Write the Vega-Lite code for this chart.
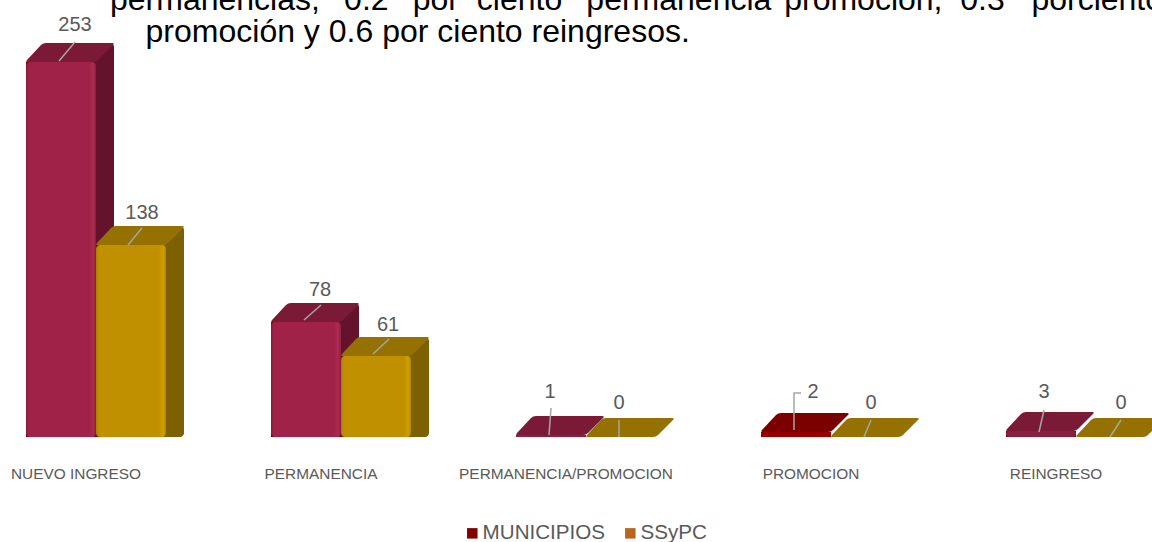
{
"$schema":"https://vega.github.io/schema/vega-lite/v6.json",
"width":1152,"height":542,"padding":0,"autosize":{"type":"none"},"background":"white",
"config":{"view":{"stroke":null},"font":"Liberation Sans"},
"title":{"text":["permanencias,\u00a0\u00a0\u20090.2\u00a0\u00a0\u2009por\u00a0\u00a0ciento\u00a0\u00a0\u2009permanencia\u2009\u2009promoción,\u00a0\u00a00.3\u00a0\u00a0\u00a0porciento","\u200b\u00a0\u00a0\u00a0\u00a0promoción y 0.6 por ciento reingresos."],"anchor":"start","frame":"group","orient":"top","offset":-74,"dx":110,"fontSize":32,"font":"Liberation Sans","fontWeight":"normal","color":"#000000","lineHeight":32,"baseline":"alphabetic"},
"data":{"values":[
{"category":"NUEVO INGRESO","series":"MUNICIPIOS","value":253},
{"category":"NUEVO INGRESO","series":"SSyPC","value":138},
{"category":"PERMANENCIA","series":"MUNICIPIOS","value":78},
{"category":"PERMANENCIA","series":"SSyPC","value":61},
{"category":"PERMANENCIA/PROMOCION","series":"MUNICIPIOS","value":1},
{"category":"PERMANENCIA/PROMOCION","series":"SSyPC","value":0},
{"category":"PROMOCION","series":"MUNICIPIOS","value":2},
{"category":"PROMOCION","series":"SSyPC","value":0},
{"category":"REINGRESO","series":"MUNICIPIOS","value":3},
{"category":"REINGRESO","series":"SSyPC","value":0}
]},
"transform":[{"calculate":"datum.category+'|'+datum.series","as":"key"}],
"encoding":{
"x":{"field":"category","type":"nominal","sort":null,"scale":{"range":[-26.5,1198.5],"paddingInner":0.42857,"paddingOuter":0.21429},"axis":{"title":null,"domain":false,"ticks":false,"grid":false,"labelAngle":0,"labelFontSize":15.4,"labelColor":"#595959","labelFont":"Liberation Sans","labelPadding":29,"offset":-105,"labelOffset":-20,"labelOverlap":false,"labelBound":false,"labelFlush":false,"labelLimit":400}},
"y":{"field":"value","type":"quantitative","scale":{"domain":[0,1,2,3,61,78,138,253],"range":[437,435,432,431,356,322,245,62],"nice":false,"zero":false},"axis":null}
},
"layer":[
{"mark":{"type":"bar"},"encoding":{"xOffset":{"field":"series","type":"nominal","sort":["MUNICIPIOS","SSyPC"]},"color":{"field":"series","type":"nominal","scale":{"domain":["MUNICIPIOS","SSyPC"],"range":["#800000","#b8651e"]},"legend":{"orient":"none","legendX":462,"legendY":523,"direction":"horizontal","title":null,"symbolType":"square","symbolSize":110,"symbolStrokeWidth":0,"labelFontSize":20.6,"labelColor":"#595959","labelFont":"Liberation Sans","labelOffset":0,"columnPadding":14}}}},
{"transform":[{"filter":"datum.value>3"}],"mark":{"type":"bar","width":70,"xOffset":{"expr":"datum.series=='SSyPC'?53:-17"},"yOffset":-19,"cornerRadius":4},"encoding":{"y2":{"datum":0},"color":{"condition":[{"test":"datum.series=='SSyPC'","value":"#7d6000"}],"value":"#65132d"}}},
{"transform":[{"filter":"datum.value>3"}],"mark":{"type":"point","filled":true,"opacity":1,"size":4,"strokeWidth":0,"shape":"M33 0 Q36 0 38 -2 L53 -18 L53 -19 L35 -19 Z"},"encoding":{"xOffset":{"field":"series","type":"nominal","sort":["MUNICIPIOS","SSyPC"]},"y":{"datum":0},"color":{"condition":[{"test":"datum.series=='SSyPC'","value":"#7d6000"}],"value":"#65132d"}}},
{"mark":{"type":"point","filled":true,"opacity":1,"size":4,"strokeWidth":0,"shape":"M-33 0 Q-36 0 -34 -2 L-20 -17 Q-18 -19 -15 -19 L51 -19 Q54 -19 52 -17 L37 -2 Q35 0 32 0 Z"},"encoding":{"xOffset":{"field":"series","type":"nominal","sort":["MUNICIPIOS","SSyPC"]},"color":{"condition":[{"test":"datum.key=='PROMOCION|MUNICIPIOS'","value":"#7b0000"},{"test":"datum.series=='SSyPC'","value":"#947100"}],"value":"#7a1a37"}}},
{"mark":{"type":"bar","cornerRadius":4},"encoding":{"xOffset":{"field":"series","type":"nominal","sort":["MUNICIPIOS","SSyPC"]},"color":{"condition":[{"test":"datum.key=='PROMOCION|MUNICIPIOS'","value":"#990000"},{"test":"datum.value<=3 && datum.series=='MUNICIPIOS'","value":"#8a1e3e"},{"test":"datum.series=='SSyPC'","value":{"x1":0,"x2":1,"y1":0,"y2":0,"gradient":"linear","stops":[{"offset":0,"color":"#a87f00"},{"offset":0.04,"color":"#c09000"},{"offset":0.9,"color":"#c09000"},{"offset":0.96,"color":"#d2a000"},{"offset":1,"color":"#b08500"}]}}],"value":{"x1":0,"x2":1,"y1":0,"y2":0,"gradient":"linear","stops":[{"offset":0,"color":"#7f1c3b"},{"offset":0.04,"color":"#a02248"},{"offset":0.9,"color":"#a02248"},{"offset":0.96,"color":"#ae2a50"},{"offset":1,"color":"#8a1e3e"}]}}}},
{"mark":{"type":"point","filled":false,"opacity":1,"size":4,"strokeWidth":1.5,"color":"#a6a6a6"},"encoding":{"xOffset":{"field":"series","type":"nominal","sort":["MUNICIPIOS","SSyPC"]},"shape":{"field":"key","type":"nominal","legend":null,"scale":{"domain":["NUEVO INGRESO|MUNICIPIOS","NUEVO INGRESO|SSyPC","PERMANENCIA|MUNICIPIOS","PERMANENCIA|SSyPC","PERMANENCIA/PROMOCION|MUNICIPIOS","PERMANENCIA/PROMOCION|SSyPC","PROMOCION|MUNICIPIOS","PROMOCION|SSyPC","REINGRESO|MUNICIPIOS","REINGRESO|SSyPC"],"range":["M-2 -1 L14 -20","M-3 0 L11 -17","M-2 -2 L15 -17","M-3 -2 L13 -17","M-2 0 L0 -27","M-2 0 L-2 -17","M-2 -2 L-2 -39 L5 -39","M-2 0 L5 -17","M-2 1 L3 -21","M-1 0 L10 -17"]}}}},
{"mark":{"type":"text","font":"Liberation Sans","fontSize":20,"color":"#595959","baseline":"middle","align":"center",
"dx":{"expr":"{'NUEVO INGRESO|MUNICIPIOS':14,'NUEVO INGRESO|SSyPC':11,'PERMANENCIA|MUNICIPIOS':14,'PERMANENCIA|SSyPC':12,'PERMANENCIA/PROMOCION|MUNICIPIOS':-1,'PERMANENCIA/PROMOCION|SSyPC':-2,'PROMOCION|MUNICIPIOS':17,'PROMOCION|SSyPC':5,'REINGRESO|MUNICIPIOS':3,'REINGRESO|SSyPC':10}[datum.key]"},
"dy":{"expr":"{'NUEVO INGRESO|MUNICIPIOS':-37,'NUEVO INGRESO|SSyPC':-32,'PERMANENCIA|MUNICIPIOS':-32,'PERMANENCIA|SSyPC':-31,'PERMANENCIA/PROMOCION|MUNICIPIOS':-43,'PERMANENCIA/PROMOCION|SSyPC':-34,'PROMOCION|MUNICIPIOS':-40,'PROMOCION|SSyPC':-34,'REINGRESO|MUNICIPIOS':-39,'REINGRESO|SSyPC':-34}[datum.key]"}},
"encoding":{"xOffset":{"field":"series","type":"nominal","sort":["MUNICIPIOS","SSyPC"]},"text":{"field":"value","type":"quantitative"}}}
]
}
